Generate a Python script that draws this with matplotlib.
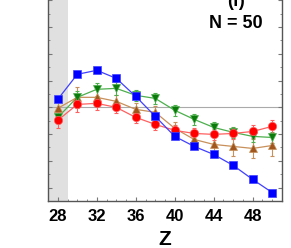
import numpy as np
import matplotlib
matplotlib.use('Agg')
import matplotlib.pyplot as plt
from matplotlib.ticker import MultipleLocator

Z = [28, 30, 32, 34, 36, 38, 40, 42, 44, 46, 48, 50]

blue  = [1.060, 1.247, 1.277, 1.217, 1.082, 0.933, 0.783, 0.708, 0.648, 0.566, 0.461, 0.363]
green = [0.925, 1.075, 1.135, 1.142, 1.090, 1.067, 0.978, 0.910, 0.850, 0.813, 0.783, 0.775]
red   = [0.903, 1.022, 1.030, 1.000, 0.925, 0.873, 0.828, 0.805, 0.798, 0.805, 0.820, 0.858]
brown = [0.993, 1.075, 1.075, 1.045, 0.985, 0.963, 0.843, 0.760, 0.723, 0.708, 0.693, 0.715]

green_err = [0.04, 0.05, 0.05, 0.05, 0.04, 0.04, 0.04, 0.04, 0.04, 0.04, 0.04, 0.04]
red_err   = [0.06, 0.06, 0.05, 0.04, 0.04, 0.04, 0.04, 0.04, 0.04, 0.04, 0.05, 0.05]
brown_err = [0.05, 0.08, 0.06, 0.05, 0.05, 0.05, 0.05, 0.05, 0.06, 0.07, 0.07, 0.08]

xticks = [28, 32, 36, 40, 44, 48]

NARROW = ['Liberation Sans Narrow', 'Liberation Sans', 'DejaVu Sans']

fig = plt.figure(figsize=(2.91, 2.48), dpi=100)
ax = fig.add_axes([0.165, 0.1895, 0.804, 0.863])

ax.axvspan(27, 29, color="#e0e0e0", lw=0, zorder=0)
ax.axhline(1.0, color="#aaaaaa", lw=0.8, zorder=1)

series = [
    (brown, brown_err, "^", "#a0561c", "#c8905a"),
    (green, green_err, "v", "#0a7a0a", "#4caf4c"),
    (red,   red_err,   "o", "#ff0000", "#ff6060"),
    (blue,  None,      "s", "#0000ff", "#4040ff"),
]
for vals, err, mk, col, lcol in series:
    if err is not None:
        ax.errorbar(Z, vals, yerr=err, fmt="none", ecolor=lcol,
                    elinewidth=0.8, capsize=1.5, capthick=0.8, zorder=2)
    ax.plot(Z, vals, color=lcol, lw=0.9, zorder=3)
    ax.plot(Z, vals, ls="none", marker=mk, ms=6, color=col,
            mec=lcol, mew=0.5, zorder=4)

ax.set_xlim(27, 51)
ax.set_ylim(0.3, 1.9)
ax.xaxis.set_major_locator(MultipleLocator(4))
ax.xaxis.set_minor_locator(MultipleLocator(1))
ax.yaxis.set_major_locator(MultipleLocator(0.2))
ax.yaxis.set_minor_locator(MultipleLocator(0.1))
ax.set_xticks(xticks)
ax.set_xticklabels([str(t) for t in xticks], family=NARROW,
                   fontweight="bold", fontsize=12)
ax.set_yticklabels([])
ax.tick_params(which="both", direction="in", top=True, right=True,
               color="#777777", labelleft=False)
ax.tick_params(which="major", length=3, width=0.8, pad=6)
ax.tick_params(which="minor", length=1.5, width=0.6)
for s in ax.spines.values():
    s.set_color("#555555")
    s.set_linewidth(1.0)

ax.set_xlabel("Z", family=NARROW, fontweight="bold", fontsize=15, labelpad=4)

ax.text(0.803, 0.93, "(f)", transform=ax.transAxes, ha="center",
        va="center", family=NARROW, fontweight="bold", fontsize=13)
ax.text(0.803, 0.829, "N = 50", transform=ax.transAxes, ha="center",
        va="center", family=NARROW, fontweight="bold", fontsize=13)

fig.savefig("out.png", dpi=100)
